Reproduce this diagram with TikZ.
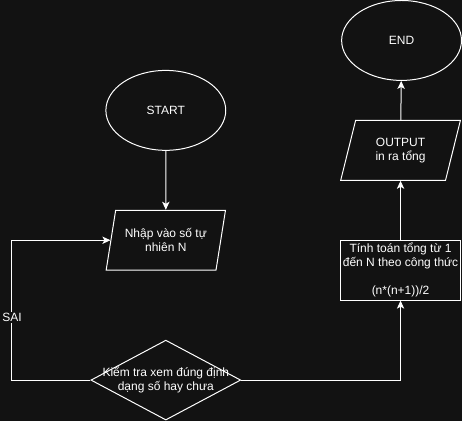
\documentclass[tikz,border=0pt]{standalone}
\usepackage{fontspec}
\setmainfont{Liberation Sans}
\usetikzlibrary{shapes.geometric,arrows.meta,positioning}
\definecolor{bgdark}{HTML}{121212}
\tikzset{base/.style={draw=white, text=white, line width=0.75pt,
font=\fontsize{9}{10.5}\selectfont, align=center, inner sep=0pt},
term/.style={base, ellipse, minimum width=90pt, minimum height=60pt},
io/.style={base, trapezium, trapezium left angle=71.57, trapezium right angle=108.43,
trapezium stretches=true, minimum width=90pt, minimum height=45pt},
proc/.style={base, rectangle, minimum width=90pt, minimum height=45pt},
check/.style={base, diamond, minimum width=112.5pt, minimum height=60pt},
flow/.style={draw=white, line width=0.75pt, ->, >={Stealth[length=6pt,width=5.5pt,inset=1.5pt]}}}

\begin{document}
\begin{tikzpicture}[x=0.75pt,y=-0.75pt]
        \fill[bgdark] (0,0) rectangle (462,421);
        
        \node[term] (start) at (166, 110) {START};
        \node[io] (input) at (166, 240) {Nhập vào số tự\\nhiên N};
        \node[check, label={[text=white, font=\fontsize{9}{10.5}\selectfont, align=center]center:Kiểm tra xem đúng định\\dạng số hay chưa}] (check) at (166, 380) {};
        \node[proc] (sum) at (401, 270) {Tính toán tổng từ 1\\đến N theo công thức\\\mbox{}\\(n*(n+1))/2};
        \node[io] (output) at (401, 150) {OUTPUT\\in ra tổng};
        \node[term] (end) at (402, 40) {END};
        \coordinate (back) at (12, 380);
        
        \draw[flow] (start) -- (input);
        \draw[flow] (check.west) -- (back) |- (input.west)
              node[pos=0.225, fill=bgdark, text=white, inner sep=1pt,
              font=\fontsize{9}{10.5}\selectfont] {SAI};
        \draw[flow] (check.east) -| (sum.south);
        \draw[flow] (sum) -- (output);
        \draw[flow] (output) -- (end);
    \end{tikzpicture}
\end{document}
